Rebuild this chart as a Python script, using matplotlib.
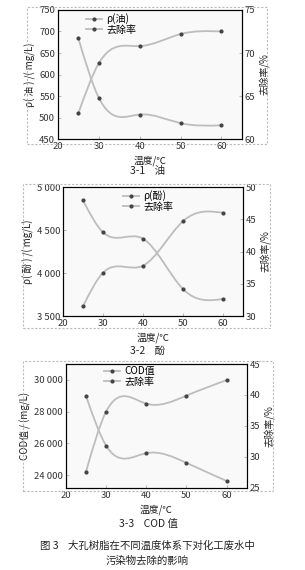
import numpy as np
import matplotlib
matplotlib.use('Agg')
import matplotlib.pyplot as plt
from matplotlib.path import Path
from matplotlib.patches import PathPatch, Rectangle
from matplotlib.lines import Line2D
from matplotlib.ticker import FuncFormatter

plt.rcParams['font.family'] = ['Noto Sans CJK SC', 'DejaVu Sans']

temp = [25, 30, 40, 50, 60]

oil_conc = [684, 546, 507, 487, 482]
oil_rate = [63.0, 68.8, 70.8, 72.2, 72.5]

phenol_conc = [4845, 4473, 4399, 3814, 3698]
phenol_rate = [31.5, 36.7, 37.8, 44.7, 46.0]

cod_conc = [29000, 25870, 25390, 24780, 23640]
cod_rate = [27.6, 37.3, 38.6, 39.9, 42.4]

line_c = '#bdbdbd'
mark_c = '#444444'


def slopes(x, y):
    # slopes of a natural cubic spline at the knots
    x = np.asarray(x, float)
    y = np.asarray(y, float)
    n = len(x)
    h = np.diff(x)
    A = np.zeros((n, n))
    b = np.zeros(n)
    A[0, 0] = A[-1, -1] = 1
    for i in range(1, n - 1):
        A[i, i - 1] = h[i - 1]
        A[i, i] = 2 * (h[i - 1] + h[i])
        A[i, i + 1] = h[i]
        b[i] = 6 * ((y[i + 1] - y[i]) / h[i] - (y[i] - y[i - 1]) / h[i - 1])
    M = np.linalg.solve(A, b)
    m = np.zeros(n)
    for i in range(n - 1):
        m[i] = (y[i + 1] - y[i]) / h[i] - h[i] * (2 * M[i] + M[i + 1]) / 6
    m[-1] = (y[-1] - y[-2]) / h[-1] + h[-1] * (M[-2] + 2 * M[-1]) / 6
    return m


def smooth(ax, xs, ys):
    # spline drawn as bezier path through the data points
    m = slopes(xs, ys)
    verts = [(xs[0], ys[0])]
    codes = [Path.MOVETO]
    for i in range(len(xs) - 1):
        h = xs[i + 1] - xs[i]
        verts += [(xs[i] + h / 3, ys[i] + m[i] * h / 3),
                  (xs[i + 1] - h / 3, ys[i + 1] - m[i + 1] * h / 3),
                  (xs[i + 1], ys[i + 1])]
        codes += [Path.CURVE4] * 3
    ax.add_patch(PathPatch(Path(verts, codes), fill=False, ec=line_c, lw=1.3))
    ax.plot(xs, ys, ls='none', marker='o', ms=2, color=mark_c)


def sp(v, pos):
    s = '%d' % v
    if len(s) > 3:
        s = s[:-3] + ' ' + s[-3:]
    return s


fig = plt.figure(figsize=(3.05, 5.70), dpi=100)

panels = [
    ([0.190, 0.756, 0.603, 0.2265], oil_conc, oil_rate, (450, 750), np.arange(450, 751, 50),
     (60, 75), np.arange(60, 76, 5), 'ρ( 油 ) /( mg/L)', 'ρ(油)', (0.12, 1.02), False),
    ([0.2066, 0.4456, 0.590, 0.2263], phenol_conc, phenol_rate, (3500, 5000), np.arange(3500, 5001, 500),
     (30, 50), np.arange(30, 51, 5), 'ρ( 酚 ) /( mg/L)', 'ρ(酚)', (0.30, 1.02), True),
    ([0.216, 0.1439, 0.593, 0.2175], cod_conc, cod_rate, (23200, 31000), np.arange(24000, 30001, 2000),
     (25, 45), np.arange(25, 46, 5), 'COD值 / (mg/L)', 'COD值', (0.18, 1.03), True),
]

for rect, conc, rate, yl, yt, rl, rt, ylab, leg1, lpos, fmt in panels:
    ax = fig.add_axes(rect)
    ax.set_facecolor('#f9f9f9')
    ax2 = ax.twinx()
    smooth(ax, temp, conc)
    smooth(ax2, temp, rate)
    ax.set_xlim(20, 65)
    ax.set_xticks([20, 30, 40, 50, 60])
    ax.set_ylim(*yl)
    ax.set_yticks(yt)
    ax2.set_ylim(*rl)
    ax2.set_yticks(rt)
    if fmt:
        ax.yaxis.set_major_formatter(FuncFormatter(sp))
    for a in (ax, ax2):
        a.tick_params(direction='in', length=2, width=0.6, labelsize=6.8,
                      colors='#aaaaaa', labelcolor='#333333', pad=2)
        for s in a.spines.values():
            s.set_linewidth(0.8)
    ax.set_ylabel(ylab, fontsize=7, color='#222222', labelpad=2)
    ax2.set_ylabel('去除率/%', fontsize=7, color='#222222', rotation=90, labelpad=2)
    ax.set_xlabel('温度/℃', fontsize=7, color='#222222', labelpad=3)
    h = [Line2D([], [], color=line_c, lw=1.3, marker='o', ms=2,
                markerfacecolor=mark_c, markeredgecolor=mark_c) for _ in range(2)]
    ax.legend(h, [leg1, '去除率'], loc='upper left', bbox_to_anchor=lpos, frameon=False,
              fontsize=7.2, handlelength=1.6, handletextpad=0.4, labelspacing=0.05,
              borderaxespad=0.2)

# dashed frames around each panel
for x0, y0, x1, y1 in [(27, 7, 267, 144), (23, 184, 270, 328), (23, 361, 273, 491)]:
    fig.patches.append(Rectangle((x0 / 305, 1 - y1 / 570), (x1 - x0) / 305, (y1 - y0) / 570,
                                 transform=fig.transFigure, fill=False, ec='#bbbbbb',
                                 lw=0.8, ls=(0, (2, 1.5))))

fig.text(148 / 305, 1 - 171 / 570, '3-1    油', ha='center', va='center', fontsize=7.5, color='#222222')
fig.text(148 / 305, 1 - 351 / 570, '3-2    酚', ha='center', va='center', fontsize=7.5, color='#222222')
fig.text(148 / 305, 1 - 524 / 570, '3-3    COD 值', ha='center', va='center', fontsize=7.5, color='#222222')
fig.text(147 / 305, 1 - 546 / 570, '图 3    大孔树脂在不同温度体系下对化工废水中', ha='center', va='center',
         fontsize=7.5, color='#222222')
fig.text(147 / 305, 1 - 561 / 570, '污染物去除的影响', ha='center', va='center', fontsize=7.5, color='#222222')

fig.savefig('out.png', dpi=100, facecolor='white')
